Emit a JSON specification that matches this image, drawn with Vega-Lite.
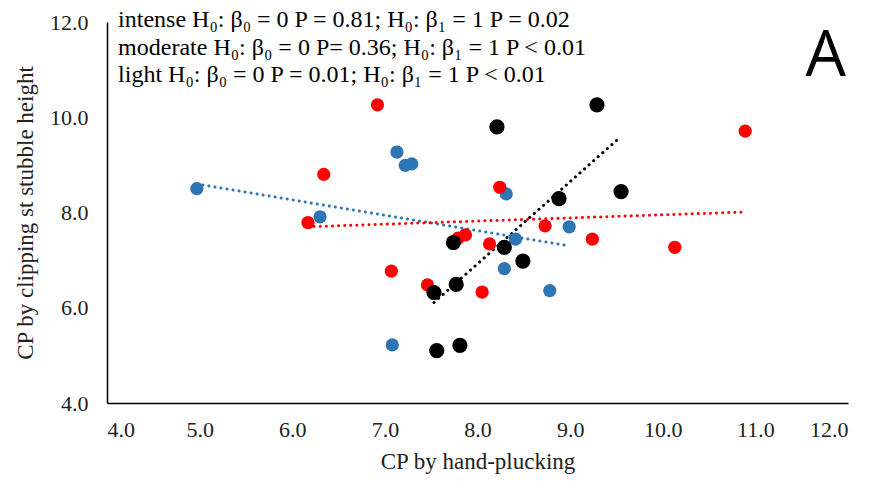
{
  "$schema": "https://vega.github.io/schema/vega-lite/v6.json",
  "width": 741,
  "height": 381,
  "autosize": "none",
  "padding": {"left": 107, "top": 22, "right": 25, "bottom": 80},
  "background": "white",
  "config": {"view": {"stroke": null}, "font": "Liberation Serif"},
  "datasets": {
    "points": [
      {"group": "light", "hand": 6.17, "clip": 7.79},
      {"group": "light", "hand": 6.34, "clip": 8.80},
      {"group": "light", "hand": 6.92, "clip": 10.26},
      {"group": "light", "hand": 7.07, "clip": 6.77},
      {"group": "light", "hand": 7.46, "clip": 6.48},
      {"group": "light", "hand": 7.79, "clip": 7.46},
      {"group": "light", "hand": 7.87, "clip": 7.53},
      {"group": "light", "hand": 8.05, "clip": 6.33},
      {"group": "light", "hand": 8.13, "clip": 7.34},
      {"group": "light", "hand": 8.24, "clip": 8.53},
      {"group": "light", "hand": 8.73, "clip": 7.72},
      {"group": "light", "hand": 9.24, "clip": 7.44},
      {"group": "light", "hand": 10.13, "clip": 7.27},
      {"group": "light", "hand": 10.89, "clip": 9.71},
      {"group": "moderate", "hand": 4.97, "clip": 8.50},
      {"group": "moderate", "hand": 6.30, "clip": 7.91},
      {"group": "moderate", "hand": 7.08, "clip": 5.22},
      {"group": "moderate", "hand": 7.13, "clip": 9.27},
      {"group": "moderate", "hand": 7.22, "clip": 8.99},
      {"group": "moderate", "hand": 7.29, "clip": 9.02},
      {"group": "moderate", "hand": 8.29, "clip": 6.82},
      {"group": "moderate", "hand": 8.31, "clip": 8.39},
      {"group": "moderate", "hand": 8.41, "clip": 7.44},
      {"group": "moderate", "hand": 8.78, "clip": 6.36},
      {"group": "moderate", "hand": 8.99, "clip": 7.70},
      {"group": "intense", "hand": 7.53, "clip": 6.32},
      {"group": "intense", "hand": 7.56, "clip": 5.10},
      {"group": "intense", "hand": 7.74, "clip": 7.37},
      {"group": "intense", "hand": 7.77, "clip": 6.49},
      {"group": "intense", "hand": 7.81, "clip": 5.21},
      {"group": "intense", "hand": 8.21, "clip": 9.80},
      {"group": "intense", "hand": 8.29, "clip": 7.27},
      {"group": "intense", "hand": 8.49, "clip": 6.98},
      {"group": "intense", "hand": 8.88, "clip": 8.29},
      {"group": "intense", "hand": 9.29, "clip": 10.26},
      {"group": "intense", "hand": 9.55, "clip": 8.44}
    ],
    "trends": [
      {"group": "moderate", "hand": 4.97, "clip": 8.60},
      {"group": "moderate", "hand": 8.99, "clip": 7.30},
      {"group": "light", "hand": 6.17, "clip": 7.70},
      {"group": "light", "hand": 10.89, "clip": 8.01},
      {"group": "intense", "hand": 7.53, "clip": 6.11},
      {"group": "intense", "hand": 9.54, "clip": 9.58}
    ],
    "notes": [
      {"text": "intense H₀: β₀ = 0 P = 0.81; H₀: β₁ = 1 P = 0.02", "hand": 4.12, "clip": 12.04},
      {"text": "moderate H₀: β₀ = 0 P= 0.36; H₀: β₁ = 1 P < 0.01", "hand": 4.12, "clip": 11.46},
      {"text": "light  H₀: β₀ = 0 P = 0.01; H₀: β₁ = 1 P < 0.01", "hand": 4.12, "clip": 10.89}
    ],
    "label": [
      {"text": "A", "hand": 11.76, "clip": 10.87}
    ]
  },
  "encoding": {
    "x": {
      "field": "hand", "type": "quantitative",
      "scale": {"domain": [4, 12], "nice": false, "zero": false},
      "axis": {
        "title": "CP by hand-plucking", "format": ".1f", "values": [4,5,6,7,8,9,10,11,12],
        "grid": false, "ticks": false, "domainColor": "#000000", "domainWidth": 1.5,
        "labelFont": "Liberation Serif", "labelFontSize": 22, "labelColor": "#222222", "labelPadding": 16,
        "titleFont": "Liberation Serif", "titleFontSize": 23, "titleFontWeight": "normal", "titleColor": "#222222", "titlePadding": 10
      }
    },
    "y": {
      "field": "clip", "type": "quantitative",
      "scale": {"domain": [4, 12], "nice": false, "zero": false},
      "axis": {
        "title": "CP by clipping st stubble height", "format": ".1f", "values": [4,6,8,10,12],
        "grid": false, "ticks": false, "domainColor": "#000000", "domainWidth": 1.5,
        "labelFont": "Liberation Serif", "labelFontSize": 22, "labelColor": "#222222", "labelPadding": 19,
        "titleFont": "Liberation Serif", "titleFontSize": 23, "titleFontWeight": "normal", "titleColor": "#222222", "titlePadding": 12
      }
    }
  },
  "layer": [
    {
      "data": {"name": "trends"},
      "mark": {"type": "line", "strokeWidth": 3, "strokeDash": [0.1, 6], "strokeCap": "round"},
      "encoding": {
        "detail": {"field": "group"},
        "color": {"field": "group", "type": "nominal",
          "scale": {"domain": ["intense", "moderate", "light"], "range": ["#000000", "#2E75B6", "#FF0000"]},
          "legend": null}
      }
    },
    {
      "data": {"name": "points"},
      "mark": {"type": "circle", "size": 175, "opacity": 1},
      "encoding": {
        "color": {"field": "group", "type": "nominal",
          "scale": {"domain": ["intense", "moderate", "light"], "range": ["#262626", "#2E75B6", "#FF0000"]},
          "legend": null},
        "stroke": {"field": "group", "type": "nominal",
          "scale": {"domain": ["intense", "moderate", "light"], "range": ["#000000", "#2E75B6", "#FF0000"]},
          "legend": null},
        "strokeWidth": {"condition": {"test": "datum.group === 'intense'", "value": 2}, "value": 0},
        "order": {"field": "group", "sort": "descending"}
      }
    },
    {
      "data": {"name": "notes"},
      "mark": {"type": "text", "align": "left", "baseline": "middle", "font": "Liberation Serif", "fontSize": 24, "color": "#000000"},
      "encoding": {"text": {"field": "text"}}
    },
    {
      "data": {"name": "label"},
      "mark": {"type": "text", "align": "center", "baseline": "alphabetic", "font": "Open Sans", "fontSize": 64, "color": "#000000"},
      "encoding": {"text": {"field": "text"}}
    }
  ]
}
